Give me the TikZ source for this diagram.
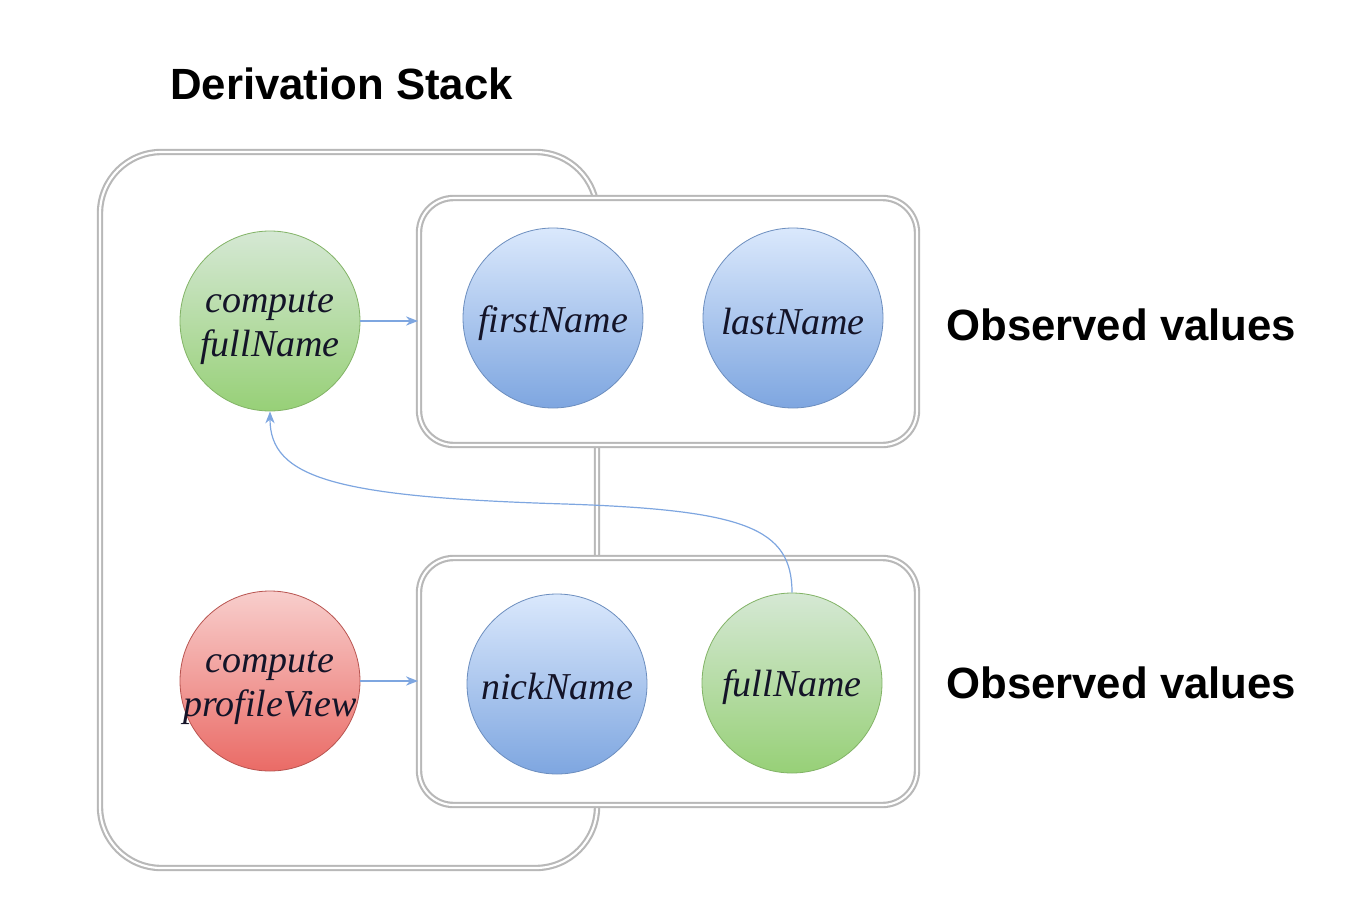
\documentclass[tikz,border=0pt]{standalone}
\usepackage{fontspec}
\setmainfont{Liberation Serif}
\setsansfont{Liberation Sans}
\usetikzlibrary{arrows.meta}
\definecolor{gtop}{HTML}{D5E8D4}
\definecolor{gbot}{HTML}{97D077}
\definecolor{gline}{HTML}{82B366}
\definecolor{btop}{HTML}{DAE8FC}
\definecolor{bbot}{HTML}{7EA6E0}
\definecolor{bline}{HTML}{6C8EBF}
\definecolor{rtop}{HTML}{F8CECC}
\definecolor{rbot}{HTML}{EA6B66}
\definecolor{rline}{HTML}{B85450}
\definecolor{frame}{HTML}{B8B8B8}
\definecolor{arrowc}{HTML}{7EA6E0}
\definecolor{txt}{HTML}{141428}
\tikzset{
  circ/.style={circle, minimum size=135pt, inner sep=0pt, line width=0.6pt},
  ctext/.style={align=center, inner sep=0pt, font=\fontsize{28.5}{33}\selectfont\itshape, text=txt},
  green/.style={circ, draw=gline, top color=gtop, bottom color=gbot},
  blue/.style={circ, draw=bline, top color=btop, bottom color=bbot},
  red/.style={circ, draw=rline, top color=rtop, bottom color=rbot},
  frm/.style={draw=frame, line width=1.6pt, double=white, double distance=1.6pt},
  obsbox/.style={frm, fill=white, rounded corners=26pt, minimum width=373.5pt, minimum height=185.25pt, inner sep=0pt},
  stackbox/.style={frm, rounded corners=46pt, minimum width=372.75pt, minimum height=537pt, inner sep=0pt},
  title/.style={font=\sffamily\bfseries\fontsize{32.8}{38}\selectfont, text=black, inner sep=0pt},
  conn/.style={draw=arrowc, line width=0.9pt, -{Stealth[length=9pt,width=7pt]}}
}
\begin{document}
\begin{tikzpicture}[x=0.75pt,y=-0.75pt]
\useasboundingbox (0,0) rectangle (1366,917);
\node[stackbox] (stack) at (348.5,510) {};
\node[obsbox] (top) at (668,321.5) {};
\node[obsbox] (bot) at (668,681.5) {};
\node[title, anchor=base west] (dtitle) at (170,99) {Derivation Stack};
\node[title, anchor=base west] (obs1) at (946,340) {Observed values};
\node[title, anchor=base west] (obs2) at (946,698) {Observed values};
\node[green] (cfn) at (270,321) {};
\node[blue] (first) at (553,318) {};
\node[blue] (last) at (793,318) {};
\node[red] (cpv) at (270,681) {};
\node[blue] (nick) at (557,684) {};
\node[green] (full) at (792,683) {};
\node[ctext] (cfnt) at ([yshift=-5.5pt]cfn.center) {compute\\fullName};
\node[ctext] (firstt) at ([yshift=-3.5pt]first.center) {firstName};
\node[ctext] (lastt) at ([yshift=-3pt]last.center) {lastName};
\node[ctext] (cpvt) at ([yshift=-5.5pt]cpv.center) {compute\\profileView};
\node[ctext] (nickt) at ([yshift=-2pt]nick.center) {nickName};
\node[ctext] (fullt) at ([yshift=-3pt]full.center) {fullName};
\draw[conn] (cfn.east) -- (top.west |- cfn.east);
\draw[conn] (cpv.east) -- (bot.west |- cpv.east);
\draw[conn] (full.north) .. controls (792,528) and (745,510) .. (565,504) .. controls (335,497) and (270,478) .. (cfn.south);
\end{tikzpicture}
\end{document}
